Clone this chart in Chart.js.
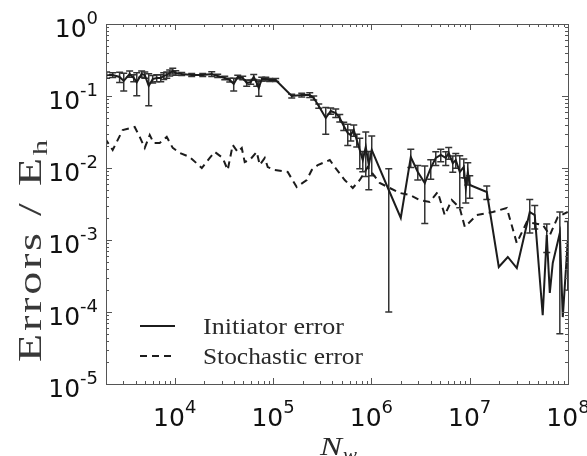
<!DOCTYPE html>
<html>
<head>
<meta charset="utf-8">
<script src="https://cdn.jsdelivr.net/npm/chart.js@4"></script>
<style>
  html, body { margin: 0; padding: 0; background: #fff; }
  #wrap { width: 587px; height: 456px; }
</style>
</head>
<body>
<div id="wrap"><canvas id="chart" width="587" height="456"></canvas></div>
<script>
// initiator error (solid, with error bars)
const initN = [2030, 2340, 2750, 3030, 3480, 3830, 4110, 4610, 4960, 5440,
  5970, 6560, 7210, 7730, 8300, 8890, 9550, 10240, 11780, 14880,
  19270, 23800, 27360, 32270, 36290, 39810, 43740, 49170, 53970, 59290,
  63630, 68230, 71600, 76740, 84340, 92520, 106400, 154900, 195900, 236200,
  259300, 291700, 343600, 386000, 434300, 477100, 523800, 575300, 617100, 662100,
  710100, 762500, 818000, 877000, 942000, 1009000, 1503000, 1991000, 2518000, 2966000,
  3494000, 4019000, 4520000, 5080000, 5710000, 6120000, 6730000, 7220000, 7930000, 8710000,
  9130000, 9570000, 10020000, 14930000, 19770000, 24420000, 30150000, 40840000, 45900000, 55300000,
  60800000, 65300000, 70000000, 82600000, 88500000, 99500000];
const initErr = [0.196, 0.196, 0.184, 0.162, 0.202, 0.178, 0.156, 0.202, 0.196, 0.138,
  0.172, 0.178, 0.178, 0.190, 0.196, 0.209, 0.222, 0.209, 0.202, 0.196,
  0.196, 0.202, 0.190, 0.178, 0.167, 0.147, 0.184, 0.178, 0.152, 0.156,
  0.184, 0.152, 0.129, 0.172, 0.172, 0.167, 0.167, 0.100, 0.103, 0.103,
  0.094, 0.0726, 0.0495, 0.0619, 0.0581, 0.0495, 0.0383, 0.0306, 0.0287, 0.0337,
  0.0245, 0.0178, 0.0129, 0.0196, 0.0110, 0.0178, 0.00495, 0.00202, 0.0142, 0.00880,
  0.00619, 0.0100, 0.0138, 0.0152, 0.0138, 0.0162, 0.0117, 0.0129, 0.00880, 0.0103,
  0.00527, 0.00880, 0.00581, 0.00464, 0.000422, 0.000581, 0.000408, 0.00245, 0.00222, 0.00009,
  0.00117, 0.000184, 0.00048, 0.00125, 0.000085, 0.00100];
const initSigma = [0.02, 0.015, 0.03, 0.045, 0.02, 0.02, 0.055, 0.02, 0.02, 0.065,
  0.02, 0.02, 0.02, 0.02, 0.02, 0.02, 0.02, 0.015, 0.01, 0.01,
  0.01, 0.015, 0.01, 0.01, 0.01, 0.03, 0.01, 0.01, 0.015, 0.01,
  0.015, 0.015, 0.03, 0.01, 0.01, 0.008, 0.008, 0.006, 0.006, 0.008,
  0.006, 0.005, 0.02, 0.006, 0.008, 0.006, 0.005, 0.01, 0.005, 0.006,
  0.005, 0.008, 0.004, 0.012, 0.006, 0.01, 0.00485, 0, 0.004, 0.002,
  0.0045, 0.003, 0.003, 0.003, 0.003, 0.003, 0.003, 0.003, 0.006, 0.003,
  0.002, 0.003, 0.002, 0.001, 0, 0, 0, 0.0012, 0.0008, 0,
  0.0005, 0, 0, 0.0012, 0, 0.0008];

// stochastic error (dashed)
const stochN = [1941, 2339, 2958, 3917, 4406, 4956, 5571, 6112, 7031, 8297,
  9550, 11250, 14220, 18850, 22720, 25540, 30770, 34590, 38910, 43740,
  48080, 51520, 57940, 68230, 73280, 82380, 88310, 103900, 141000, 174100,
  220100, 247700, 285200, 377600, 424600, 535900, 646900, 762500, 918400, 1216000,
  1468000, 1945000, 2459000, 3105000, 3926000, 4733000, 5580000, 6578000, 7925000, 8917000,
  11810000, 17180000, 23840000, 30120000, 38110000, 55450000, 65340000, 78730000, 99530000];
const stochErr = [0.0261, 0.0178, 0.0337, 0.0371, 0.0270, 0.0190, 0.0287, 0.0222, 0.0222, 0.0270,
  0.0190, 0.0162, 0.0142, 0.0100, 0.0138, 0.0167, 0.0138, 0.00938, 0.0209, 0.0167,
  0.0190, 0.0121, 0.0129, 0.0167, 0.0110, 0.0138, 0.0103, 0.00938, 0.00880, 0.00545,
  0.00681, 0.00938, 0.0110, 0.0129, 0.0103, 0.00681, 0.00527, 0.00681, 0.0103, 0.00619,
  0.00545, 0.00450, 0.00422, 0.00359, 0.00337, 0.00464, 0.00222, 0.00359, 0.00278, 0.00152,
  0.00222, 0.00245, 0.00278, 0.000908, 0.00178, 0.00162, 0.00117, 0.00209, 0.00245];

const xTickExp = [4, 5, 6, 7, 8];
const yTickExp = [0, -1, -2, -3, -4, -5];
const seriesNames = ['Initiator error', 'Stochastic error'];

const ink = '#1c1c1c';
const sansFont = '"DejaVu Sans", sans-serif';
const serifFont = '"Liberation Serif", "DejaVu Serif", serif';

// fit text to a width: a little letter spacing, then a horizontal scale
function fitText(ctx, parts, x, y, width, spacing) {
  const sp = (spacing || 0) + 'px';
  let w = 0;
  parts.forEach(p => { ctx.font = p.font; ctx.letterSpacing = sp; w += ctx.measureText(p.t).width; });
  ctx.save();
  ctx.translate(x, y);
  ctx.scale(width / w, 1);
  let cx = 0;
  parts.forEach(p => {
    ctx.font = p.font;
    ctx.letterSpacing = sp;
    ctx.fillText(p.t, cx, p.dy || 0);
    cx += ctx.measureText(p.t).width;
  });
  ctx.restore();
  ctx.letterSpacing = '0px';
}

function powLabel(ctx, exp, x, y, align) {
  const base = '10', sup = String(exp);
  ctx.font = '25px ' + sansFont;
  const wb = ctx.measureText(base).width;
  ctx.font = '18px ' + sansFont;
  const ws = ctx.measureText(sup).width;
  let left = align === 'center' ? x - (wb + ws) / 2 : x - (wb + ws);
  ctx.textAlign = 'left';
  ctx.textBaseline = 'alphabetic';
  ctx.font = '25px ' + sansFont;
  ctx.fillText(base, left, y);
  ctx.font = '18px ' + sansFont;
  ctx.fillText(sup, left + wb, y - 13);
}

const decor = {
  id: 'decor',
  beforeDatasetsDraw(chart) {
    const ctx = chart.ctx, a = chart.chartArea;
    const xs = chart.scales.x, ys = chart.scales.y;
    ctx.save();
    ctx.beginPath();
    ctx.rect(a.left, a.top, a.right - a.left, a.bottom - a.top);
    ctx.clip();
    ctx.strokeStyle = '#333';
    ctx.lineWidth = 1.5;
    initN.forEach((n, i) => {
      const s = initSigma[i];
      if (!s) return;
      const px = xs.getPixelForValue(n);
      const hi = ys.getPixelForValue(initErr[i] + s);
      const lo = ys.getPixelForValue(Math.max(initErr[i] - s, 1e-6));
      ctx.beginPath();
      ctx.moveTo(px, hi); ctx.lineTo(px, lo);
      ctx.moveTo(px - 3.5, hi); ctx.lineTo(px + 3.5, hi);
      ctx.moveTo(px - 3.5, lo); ctx.lineTo(px + 3.5, lo);
      ctx.stroke();
    });
    ctx.restore();
  },
  afterDraw(chart) {
    const ctx = chart.ctx, a = chart.chartArea;
    const xs = chart.scales.x, ys = chart.scales.y;
    ctx.save();
    // box
    ctx.strokeStyle = '#555';
    ctx.lineWidth = 1;
    ctx.strokeRect(a.left + 0.5, a.top + 0.5, a.right - a.left, a.bottom - a.top);
    // ticks
    ctx.beginPath();
    for (let d = 3; d <= 8; d++) {
      for (let m = 1; m <= 9; m++) {
        const v = m * Math.pow(10, d);
        if (v < xs.min || v > xs.max) continue;
        const px = Math.round(xs.getPixelForValue(v)) + 0.5;
        const len = m === 1 ? 6 : 3;
        ctx.moveTo(px, a.bottom); ctx.lineTo(px, a.bottom - len);
        ctx.moveTo(px, a.top); ctx.lineTo(px, a.top + len);
      }
    }
    for (let d = -5; d <= 0; d++) {
      for (let m = 1; m <= 9; m++) {
        const v = m * Math.pow(10, d);
        if (v < ys.min || v > ys.max) continue;
        const py = Math.round(ys.getPixelForValue(v)) + 0.5;
        const len = m === 1 ? 6 : 3;
        ctx.moveTo(a.left, py); ctx.lineTo(a.left + len, py);
        ctx.moveTo(a.right, py); ctx.lineTo(a.right - len, py);
      }
    }
    ctx.stroke();
    // tick labels
    ctx.fillStyle = '#111';
    xTickExp.forEach(e => powLabel(ctx, e, xs.getPixelForValue(Math.pow(10, e)), 426, 'center'));
    yTickExp.forEach(e => powLabel(ctx, e, 98, ys.getPixelForValue(Math.pow(10, e)) + 13, 'right'));
    // axis titles
    ctx.fillStyle = '#2a2a2a';
    ctx.textAlign = 'left';
    ctx.textBaseline = 'alphabetic';
    fitText(ctx, [{ t: 'N', font: 'italic 26px ' + serifFont }], 320, 455, 22);
    fitText(ctx, [{ t: 'w', font: 'italic 18px ' + serifFont }], 343, 461, 14);
    ctx.save();
    ctx.fillStyle = '#383838';
    ctx.translate(41, 362);
    ctx.rotate(-Math.PI / 2);
    fitText(ctx, [
      { t: 'Errors / E', font: '33px ' + serifFont },
      { t: 'h', font: '22px ' + serifFont, dy: 6 }
    ], 0, 0, 225, 2);
    ctx.restore();
    // legend
    ctx.strokeStyle = ink;
    ctx.lineWidth = 2;
    ctx.beginPath(); ctx.moveTo(140, 326); ctx.lineTo(175, 326); ctx.stroke();
    ctx.setLineDash([7, 5]);
    ctx.beginPath(); ctx.moveTo(140, 356); ctx.lineTo(175, 356); ctx.stroke();
    ctx.setLineDash([]);
    ctx.fillStyle = '#2a2a2a';
    fitText(ctx, [{ t: seriesNames[0], font: '24px ' + serifFont }], 203, 334, 141);
    fitText(ctx, [{ t: seriesNames[1], font: '24px ' + serifFont }], 203, 364, 160);
    ctx.restore();
  }
};

new Chart(document.getElementById('chart'), {
  type: 'line',
  data: {
    datasets: [
      {
        label: seriesNames[0],
        data: initN.map((n, i) => ({ x: n, y: initErr[i] })),
        borderColor: ink,
        borderWidth: 2,
        pointRadius: 0,
        tension: 0,
        fill: false
      },
      {
        label: seriesNames[1],
        data: stochN.map((n, i) => ({ x: n, y: stochErr[i] })),
        borderColor: ink,
        borderWidth: 2,
        borderDash: [7, 5],
        pointRadius: 0,
        tension: 0,
        fill: false
      }
    ]
  },
  options: {
    responsive: false,
    animation: false,
    devicePixelRatio: 1,
    layout: { padding: { left: 106, top: 24, right: 19, bottom: 72 } },
    scales: {
      x: { type: 'logarithmic', min: 2000, max: 1e8, display: false },
      y: { type: 'logarithmic', min: 1e-5, max: 1, display: false }
    },
    plugins: { legend: { display: false }, tooltip: { enabled: false } }
  },
  plugins: [decor]
});
</script>
</body>
</html>
